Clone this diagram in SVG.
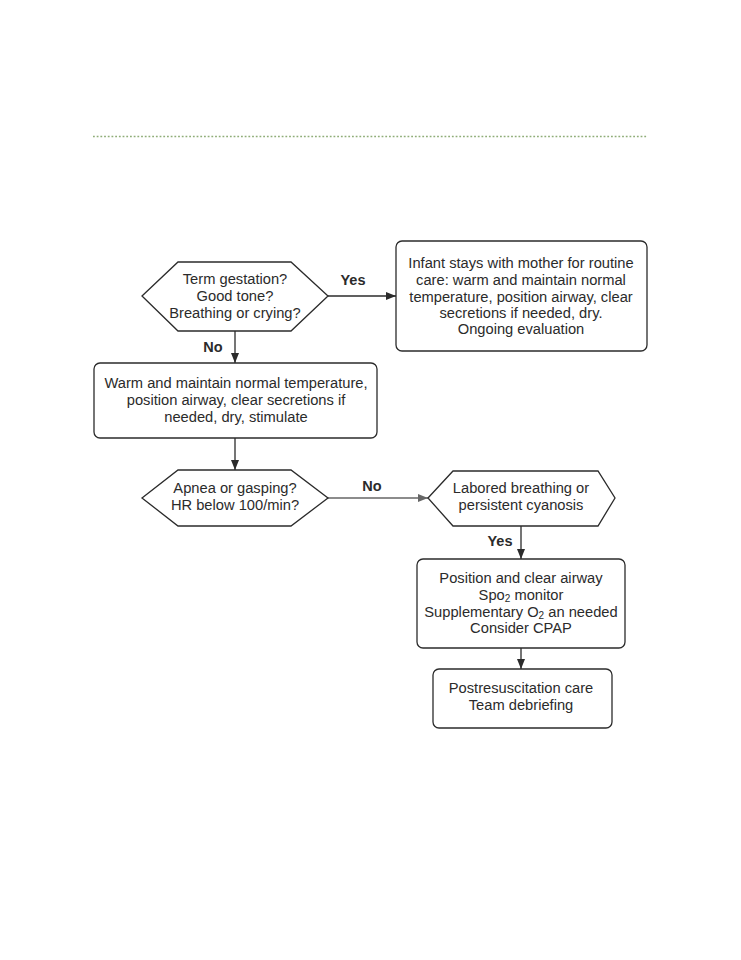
<svg xmlns="http://www.w3.org/2000/svg" width="741" height="960" viewBox="0 0 741 960">
<style>
.n{fill:#fff;stroke:#2b2b2b;stroke-width:1.3}
.t{font-family:"Liberation Sans",Arial,sans-serif;font-size:14.7px;fill:#2b2b2b;text-anchor:middle}
.b{font-family:"Liberation Sans",Arial,sans-serif;font-size:14.5px;font-weight:bold;fill:#2b2b2b;text-anchor:middle}
.s{font-size:10px}
.c{stroke:#2b2b2b;stroke-width:1.3;fill:none;marker-end:url(#ah)}
.g{stroke:#666;stroke-width:1.3;fill:none;marker-end:url(#ahg)}
</style>
<defs>
<marker id="ah" markerWidth="10" markerHeight="8" refX="10" refY="4" orient="auto" markerUnits="userSpaceOnUse"><path d="M0,0 L10,4 L0,8 Z" fill="#2b2b2b"/></marker>
<marker id="ahg" markerWidth="10" markerHeight="8" refX="10" refY="4" orient="auto" markerUnits="userSpaceOnUse"><path d="M0,0 L10,4 L0,8 Z" fill="#666"/></marker>
</defs>
<rect width="741" height="960" fill="#fff"/>
<line x1="93" y1="136.5" x2="648" y2="136.5" stroke="#8fad78" stroke-width="1.6" stroke-dasharray="1.8,1.9"/>
<g id="connectors">
<line class="c" x1="328" y1="296" x2="396" y2="296"/>
<line class="c" x1="235" y1="331" x2="235" y2="363"/>
<line class="c" x1="235" y1="438" x2="235" y2="470"/>
<line class="g" x1="328" y1="498" x2="428" y2="498"/>
<line class="c" x1="521" y1="526" x2="521" y2="559"/>
<line class="c" x1="521" y1="648" x2="521" y2="669"/>
<text class="b" x="353" y="285">Yes</text>
<text class="b" x="213" y="352">No</text>
<text class="b" x="372" y="491">No</text>
<text class="b" x="500" y="546">Yes</text>
</g>
<g id="d1">
<polygon class="n" points="142,296 178,262 291,262 328,296 291,331 178,331"/>
<text class="t" x="235" y="284">Term gestation?</text>
<text class="t" x="235" y="301">Good tone?</text>
<text class="t" x="235" y="318">Breathing or crying?</text>
</g>
<g id="b1">
<rect class="n" x="396" y="241" width="251" height="110" rx="6"/>
<text class="t" x="521" y="268">Infant stays with mother for routine</text>
<text class="t" x="521" y="285">care: warm and maintain normal</text>
<text class="t" x="521" y="302">temperature, position airway, clear</text>
<text class="t" x="521" y="318">secretions if needed, dry.</text>
<text class="t" x="521" y="334">Ongoing evaluation</text>
</g>
<g id="b2">
<rect class="n" x="94" y="363" width="283" height="75" rx="6"/>
<text class="t" x="236" y="388">Warm and maintain normal temperature,</text>
<text class="t" x="236" y="405">position airway, clear secretions if</text>
<text class="t" x="236" y="422">needed, dry, stimulate</text>
</g>
<g id="d2">
<polygon class="n" points="142,498 178,470 291,470 328,498 291,526 178,526"/>
<text class="t" x="235" y="493">Apnea or gasping?</text>
<text class="t" x="235" y="510">HR below 100/min?</text>
</g>
<g id="d3">
<polygon class="n" points="428,498 453,471 598,471 615,498 598,526 453,526"/>
<text class="t" x="521" y="493">Labored breathing or</text>
<text class="t" x="521" y="510">persistent cyanosis</text>
</g>
<g id="b3">
<rect class="n" x="417" y="559" width="208" height="89" rx="6"/>
<text class="t" x="521" y="583">Position and clear airway</text>
<text class="t" x="521" y="600">Spo<tspan class="s" dy="2">2</tspan><tspan dy="-2"> monitor</tspan></text>
<text class="t" x="521" y="617">Supplementary O<tspan class="s" dy="2">2</tspan><tspan dy="-2"> an needed</tspan></text>
<text class="t" x="521" y="633">Consider CPAP</text>
</g>
<g id="b4">
<rect class="n" x="433" y="669" width="179" height="59" rx="6"/>
<text class="t" x="521" y="693">Postresuscitation care</text>
<text class="t" x="521" y="710">Team debriefing</text>
</g>
</svg>
